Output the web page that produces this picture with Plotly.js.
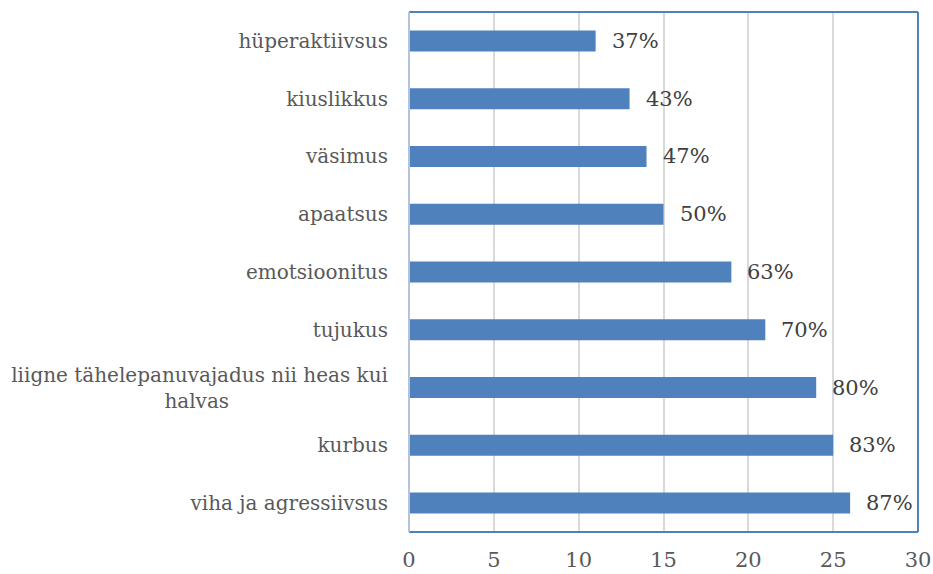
<!DOCTYPE html>
<html><head><meta charset="utf-8">
<script src="https://cdn.plot.ly/plotly-3.0.1.min.js"></script>
<style>html,body{margin:0;padding:0;background:#fff}</style>
</head><body>
<div id="chart" style="width:933px;height:574px"></div>
<script>
const categories = ["hüperaktiivsus","kiuslikkus","väsimus","apaatsus","emotsioonitus","tujukus","liigne tähelepanuvajadus nii heas kui<br>halvas" + "\u00a0".repeat(25),"kurbus","viha ja agressiivsus"];
const values = [11,13,14,15,19,21,24,25,26];
const percentLabels = ["37%","43%","47%","50%","63%","70%","80%","83%","87%"];
const xTicks = [0,5,10,15,20,25,30];

const font = "DejaVu Serif, Liberation Serif, serif";
const trace = {
  type: "bar", orientation: "h",
  x: values, y: categories,
  marker: {color: "#4f81bd", line: {width: 0}},
  hoverinfo: "none"
};
const annotations = values.map((v, i) => ({
  x: v, y: categories[i], xref: "x", yref: "y",
  text: percentLabels[i], showarrow: false,
  xanchor: "left", yanchor: "middle", xshift: 14,
  font: {family: font, size: 21, color: "#404040"}
}));
const layout = {
  width: 933, height: 574,
  margin: {l: 409, r: 15, t: 12, b: 42},
  paper_bgcolor: "#fff", plot_bgcolor: "#fff",
  bargap: 0.637,
  showlegend: false,
  font: {family: font, size: 20, color: "#595959"},
  xaxis: {
    range: [0, 30], tickvals: xTicks, ticktext: xTicks.map(String),
    showgrid: true, gridcolor: "#d9d9d9", gridwidth: 2,
    zeroline: false, showline: false, ticks: "", ticklabelstandoff: 13,
    tickfont: {family: font, size: 21, color: "#595959"}, fixedrange: true
  },
  yaxis: {
    type: "category", autorange: "reversed",
    showgrid: false, zeroline: false, showline: false, ticks: "",
    ticklabelstandoff: 20,
    tickfont: {family: font, size: 20, color: "#595959"}, fixedrange: true
  },
  annotations: annotations,
  shapes: [
    {type: "line", xref: "paper", yref: "paper", x0: 0, x1: 1, y0: 1, y1: 1, line: {color: "#4f81bd", width: 2}},
    {type: "line", xref: "paper", yref: "paper", x0: 1, x1: 1, y0: 0, y1: 1, line: {color: "#4f81bd", width: 2}},
    {type: "line", xref: "paper", yref: "paper", x0: 0, x1: 1, y0: 0, y1: 0, line: {color: "#4f81bd", width: 2}},
    {type: "line", xref: "paper", yref: "paper", x0: 0, x1: 0, y0: 0, y1: 1, line: {color: "#b4c3da", width: 2}}
  ]
};
Plotly.newPlot("chart", [trace], layout, {displayModeBar: false, staticPlot: true});
</script>
</body></html>
